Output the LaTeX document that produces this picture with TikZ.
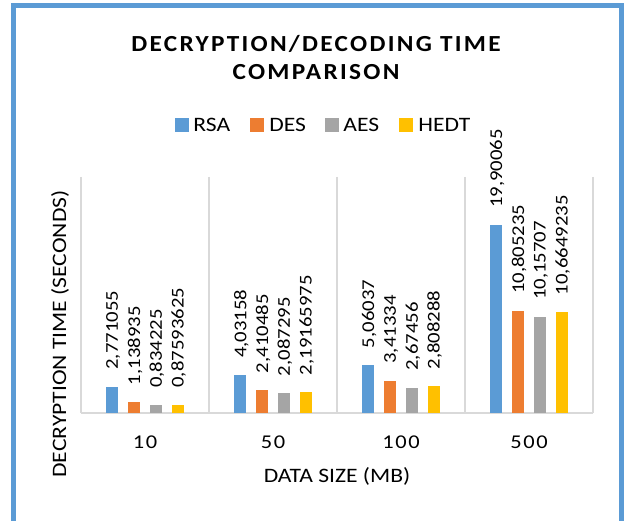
\documentclass[tikz,border=0pt]{standalone}
\usepackage{fontspec}
\setmainfont{Carlito}[FakeStretch=1.15]
\newfontfamily\titlefont{Carlito}[FakeStretch=1.1,LetterSpace=10]
\newfontfamily\catfont{Carlito}[FakeStretch=1.15,LetterSpace=8]
\usetikzlibrary{positioning}
\definecolor{rsacol}{HTML}{5B9BD5}
\definecolor{descol}{HTML}{ED7D31}
\definecolor{aescol}{HTML}{A5A5A5}
\definecolor{hedtcol}{HTML}{FFC000}
\definecolor{gridcol}{HTML}{D9D9D9}
\tikzset{
	gridline/.style={draw=gridcol, line width=1.5pt},
	vallabel/.style={rotate=90, anchor=west, inner sep=0pt, font=\fontsize{18}{20}\selectfont},
	axistitle/.style={inner sep=0pt, font=\fontsize{20.5}{24}\selectfont},
	legkey/.style={fill=#1, draw=none, minimum size=14pt, inner sep=0pt},
	legtext/.style={inner sep=0pt, font=\fontsize{20.5}{24}\selectfont},
	catlabel/.style={inner sep=0pt, font=\catfont\fontsize{19.5}{22}\selectfont},
}
\begin{document}
\begin{tikzpicture}[x=1pt,y=-1pt]
	\useasboundingbox (0,0) rectangle (624,521);
	\clip (0,0) rectangle (624,521);
	\fill[white] (0,0) rectangle (624,521);
	\draw[rsacol, line width=4.5pt] (13.5,5.5) rectangle (621.5,560);
	\node[align=center, inner sep=0pt, font=\titlefont\bfseries\fontsize{23}{28}\selectfont] (title) at (316,58) {DECRYPTION/DECODING TIME\\COMPARISON};
	\node[legkey=rsacol] (keyRSA) at (182,125) {};
	\node[legtext, right=4pt of keyRSA] (legRSA) {RSA};
	\node[legkey=descol] (keyDES) at (257,125) {};
	\node[legtext, right=5pt of keyDES] (legDES) {DES};
	\node[legkey=aescol] (keyAES) at (332,125) {};
	\node[legtext, right=4pt of keyAES] (legAES) {AES};
	\node[legkey=hedtcol] (keyHEDT) at (406,125) {};
	\node[legtext, right=5pt of keyHEDT] (legHEDT) {HEDT};
	\foreach \gx in {81,209,337,465,593}
		\draw[gridline] (\gx,177) -- (\gx,413);
	\draw[gridline] (81,413) -- (593,413);
	\foreach \cx/\va/\ta/\vb/\tb/\vc/\tc/\vd/\td [count=\i] in {
		145/2.771055/{2,771055}/1.138935/{1,138935}/0.834225/{0,834225}/0.87593625/{0,87593625},
		273/4.03158/{4,03158}/2.410485/{2,410485}/2.087295/{2,087295}/2.19165975/{2,19165975},
		401/5.06037/{5,06037}/3.41334/{3,41334}/2.67456/{2,67456}/2.808288/{2,808288},
		529/19.90065/{19,90065}/10.805235/{10,805235}/10.15707/{10,15707}/10.6649235/{10,6649235}}
	{
		\foreach \off/\v/\t/\col [count=\j] in {-32.7/\va/\ta/rsacol, -10.9/\vb/\tb/descol, 10.9/\vc/\tc/aescol, 32.7/\vd/\td/hedtcol}
		{
			\fill[\col] (\cx+\off-6,413) rectangle (\cx+\off+6,413-\v*9.44);
			\node[vallabel] (val-\i-\j) at (\cx+\off+1,413-\v*9.44-17) {\t};
		}
	}
	\node[catlabel] (cat1) at (145,442) {10};
	\node[catlabel] (cat2) at (273,442) {50};
	\node[catlabel] (cat3) at (401,442) {100};
	\node[catlabel] (cat4) at (529,442) {500};
	\node[axistitle] (xtitle) at (337,476) {DATA SIZE (MB)};
	\node[axistitle, rotate=90] (ytitle) at (60,334) {DECRYPTION TIME (SECONDS)};
\end{tikzpicture}
\end{document}
